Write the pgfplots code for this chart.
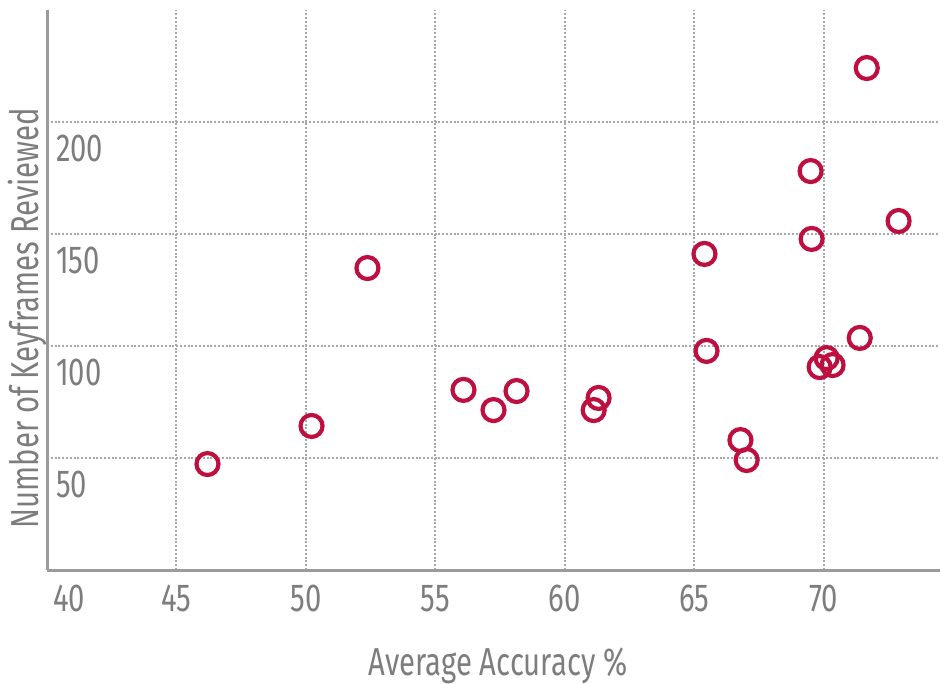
\documentclass[border=0pt]{standalone}
\usepackage{pgfplots}
\pgfplotsset{compat=1.18}
\usepackage{fontspec}
\setmainfont{Fira Sans}[FakeStretch=0.75]
\definecolor{ringred}{RGB}{190,16,64}
\definecolor{txtgray}{RGB}{125,125,125}
\definecolor{axgray}{RGB}{155,155,155}
\definecolor{gridgray}{RGB}{168,168,168}
\begin{document}
\begin{tikzpicture}
\begin{axis}[
  scale only axis,
  width=446.5bp, height=280bp,
  xmin=40, xmax=74.5,
  ymin=0, ymax=250,
  axis lines=left,
  axis line style={axgray, line width=1.5bp, -},
  xtick={45,50,55,60,65,70},
  ytick={50,100,150,200},
  extra x ticks={40},
  extra x tick style={grid=none, xticklabel style={xshift=11bp}},
  major tick length=0pt,
  grid=major,
  major grid style={gridgray, line width=1bp, dash pattern=on 1bp off 0.9bp},
  /pgf/number format/assume math mode=true,
  tick label style={font=\fontsize{19.5bp}{22bp}\selectfont, text=txtgray},
  xticklabel style={anchor=north, yshift=-4bp},
  yticklabel style={anchor=north west, xshift=1bp, yshift=-3bp},
  label style={font=\fontsize{19.5bp}{22bp}\selectfont, text=txtgray},
  xlabel={Average Accuracy \%},
  ylabel={Number of Keyframes Reviewed},
  xlabel style={at={(axis description cs:0.505,-0.1875)}, anchor=base},
  ylabel style={at={(axis description cs:-0.010,0.45)}, anchor=base},
  clip=false,
]
\addplot[only marks, mark=o, mark size=5.5bp, mark options={ringred, line width=2.1bp}] coordinates {
(46.20,47.3) (50.22,64.3) (52.38,134.8) (56.09,80.4) (57.25,71.4)
(58.14,79.9) (61.31,76.8) (61.12,71.4) (65.40,141.1) (65.48,97.8)
(66.79,58.0) (67.03,49.1) (69.50,178.1) (69.54,147.8) (70.12,94.6)
(70.35,91.5) (69.85,90.6) (71.40,103.6) (71.67,224.1) (72.90,155.8)
};
\end{axis}
\pgfresetboundingbox
\path (current axis.south west) ++(-23.5bp,-57bp) rectangle ++(470bp,342bp);
\end{tikzpicture}
\end{document}
